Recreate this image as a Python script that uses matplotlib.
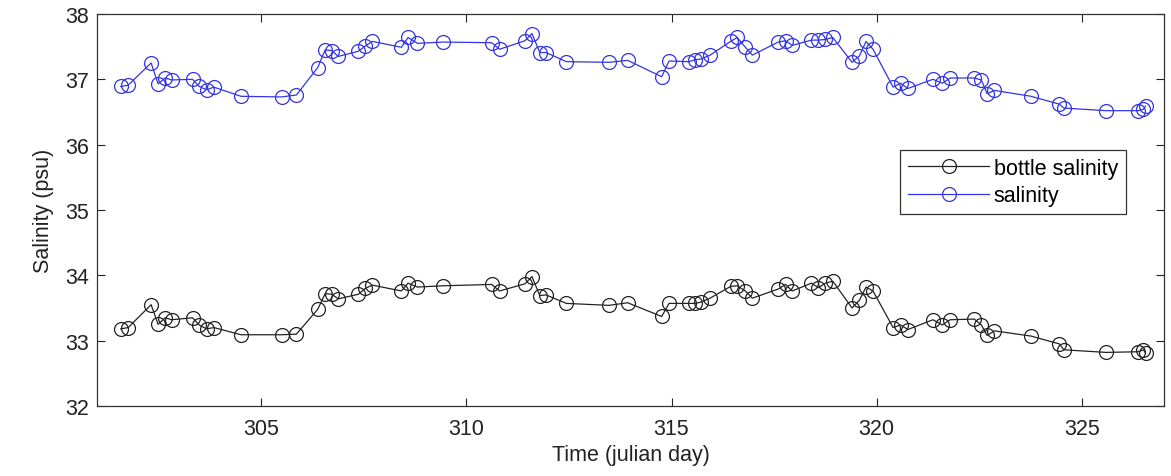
import matplotlib.pyplot as plt

# Julian day of each sample (shared by both series)
days = [301.58, 301.76, 302.32, 302.49, 302.66, 302.82, 303.33, 303.49, 303.67, 303.85,
        304.51, 305.50, 305.86, 306.38, 306.56, 306.72, 306.88, 307.37, 307.54, 307.71,
        308.42, 308.58, 308.81, 309.44, 310.62, 310.81, 311.43, 311.60, 311.79, 311.94,
        312.44, 313.48, 313.93, 314.76, 314.94, 315.42, 315.58, 315.72, 315.94, 316.44,
        316.60, 316.80, 316.97, 317.60, 317.78, 317.94, 318.41, 318.58, 318.75, 318.93,
        319.40, 319.58, 319.74, 319.91, 320.40, 320.58, 320.76, 321.37, 321.60, 321.79,
        322.38, 322.55, 322.69, 322.87, 323.76, 324.45, 324.56, 325.59, 326.37, 326.50,
        326.55]

bottle_salinity = [33.18, 33.20, 33.55, 33.25, 33.35, 33.32, 33.35, 33.24, 33.18, 33.20,
                   33.09, 33.09, 33.10, 33.48, 33.72, 33.71, 33.64, 33.71, 33.80, 33.85,
                   33.76, 33.88, 33.82, 33.84, 33.86, 33.76, 33.87, 33.98, 33.69, 33.70,
                   33.57, 33.54, 33.58, 33.37, 33.57, 33.57, 33.57, 33.59, 33.65, 33.83,
                   33.84, 33.76, 33.65, 33.79, 33.86, 33.76, 33.88, 33.81, 33.88, 33.91,
                   33.50, 33.62, 33.82, 33.76, 33.20, 33.24, 33.17, 33.32, 33.24, 33.32,
                   33.33, 33.24, 33.08, 33.15, 33.07, 32.95, 32.86, 32.82, 32.83, 32.86,
                   32.81]

salinity = [36.89, 36.91, 37.25, 36.93, 37.02, 36.99, 37.00, 36.89, 36.84, 36.88,
            36.74, 36.73, 36.76, 37.18, 37.45, 37.44, 37.35, 37.43, 37.51, 37.58,
            37.49, 37.64, 37.55, 37.57, 37.56, 37.46, 37.59, 37.70, 37.41, 37.41,
            37.27, 37.26, 37.29, 37.04, 37.28, 37.27, 37.30, 37.31, 37.37, 37.58,
            37.64, 37.49, 37.37, 37.57, 37.59, 37.52, 37.60, 37.60, 37.61, 37.64,
            37.26, 37.36, 37.58, 37.46, 36.88, 36.94, 36.86, 37.00, 36.94, 37.02,
            37.02, 36.99, 36.78, 36.83, 36.74, 36.62, 36.56, 36.52, 36.52, 36.54,
            36.59]

xticks = [305, 310, 315, 320, 325]
yticks = [32, 33, 34, 35, 36, 37, 38]

plt.rcParams['font.family'] = ['Liberation Sans', 'DejaVu Sans']

fig = plt.figure(figsize=(11.71, 4.77), dpi=100)
ax = fig.add_axes([0.0828, 0.1468, 0.9112, 0.8218])

ax.plot(days, bottle_salinity, color='#222222', lw=0.9, marker='o', ms=10,
        mfc='none', mec='#222222', mew=0.9, label='bottle salinity')
ax.plot(days, salinity, color='#3434e2', lw=0.9, marker='o', ms=10,
        mfc='none', mec='#3434e2', mew=0.9, label='salinity')

ax.set_xlim(301, 327)
ax.set_ylim(32, 38)
ax.set_xticks(xticks)
ax.set_yticks(yticks)
ax.tick_params(direction='in', length=6, width=0.8, top=True, right=True,
               labelsize=15.5, colors='#222222')
ax.tick_params(axis='x', pad=9)
ax.tick_params(axis='y', pad=6)
for s in ax.spines.values():
    s.set_linewidth(0.9)
    s.set_color('#333333')

ax.set_xlabel('Time (julian day)', fontsize=15.5, color='#222222', labelpad=3)
ax.set_ylabel('Salinity (psu)', fontsize=15.5, color='#222222', labelpad=8)

leg = ax.legend(loc='upper right', bbox_to_anchor=(0.964, 0.652), fontsize=15.5,
                fancybox=False, framealpha=1, edgecolor='#333333',
                handlelength=3.8, handletextpad=0.2, borderpad=0.35,
                labelspacing=0.3, borderaxespad=0)
leg.get_frame().set_linewidth(0.9)

fig.savefig('out.png', dpi=100)
